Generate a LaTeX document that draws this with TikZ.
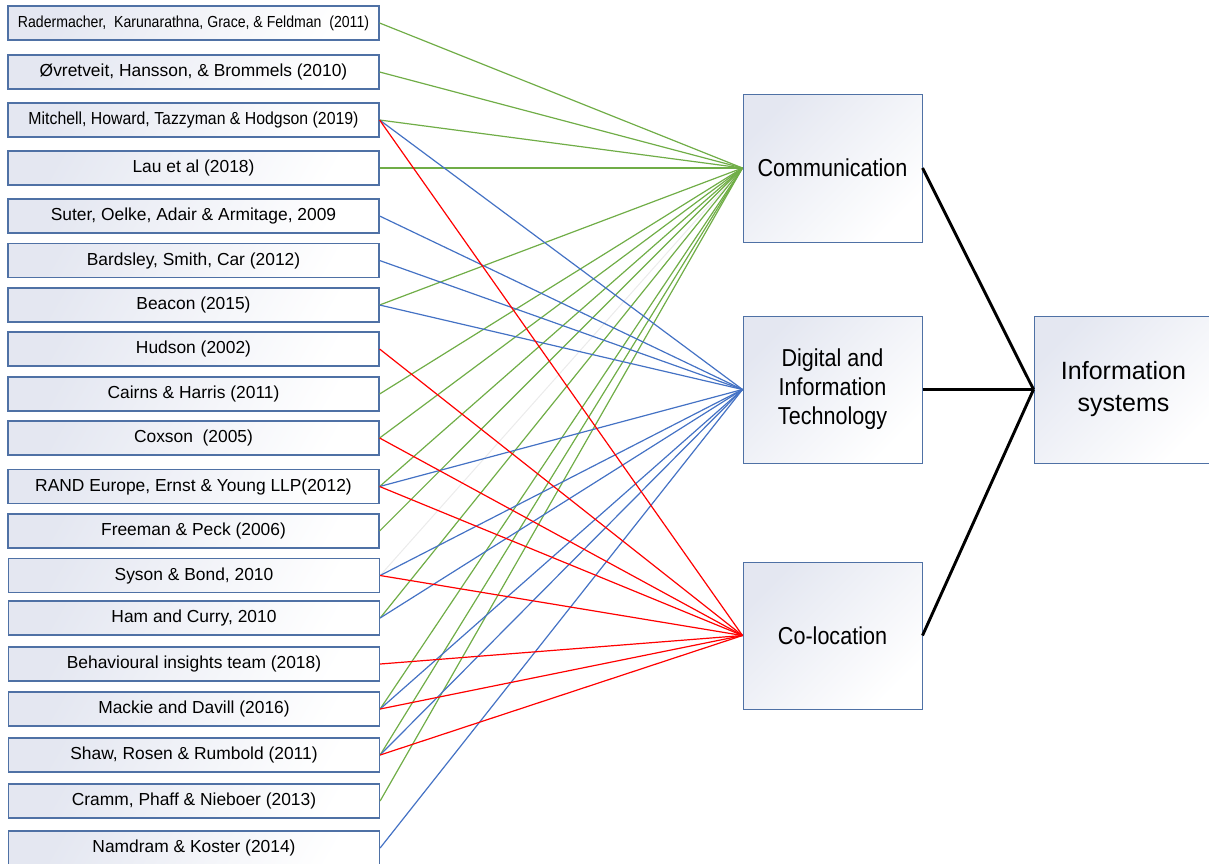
\documentclass[tikz,border=0pt]{standalone}
\usepackage{fontspec}
\setmainfont{Liberation Sans}
\newfontfamily\narrowsans[FakeStretch=0.88]{Liberation Sans}
\newfontfamily\condsans[FakeStretch=0.91]{Liberation Sans}
\definecolor{boxline}{RGB}{79,113,165}
\definecolor{boxshade}{RGB}{228,231,241}
\definecolor{linkgreen}{RGB}{112,173,71}
\definecolor{linkblue}{RGB}{68,114,196}
\definecolor{linkred}{RGB}{255,0,0}
\begin{document}
\begin{tikzpicture}[x=1pt,y=-1pt,
  source/.style={draw=boxline, line width=1.2pt, top color=boxshade, bottom color=white,
    shading angle=60, minimum width=371pt, minimum height=34pt, inner sep=0pt,
    font=\fontsize{17.4}{20}\selectfont},
  theme/.style={draw=boxline, line width=1pt, top color=boxshade, bottom color=white,
    shading angle=45, minimum width=179pt, minimum height=147pt, inner sep=0pt,
    align=center, font=\fontsize{24.5}{29}\narrowsans},
  tocomm/.style={linkgreen, line width=1.2pt},
  todit/.style={linkblue, line width=1.2pt},
  tocoloc/.style={linkred, line width=1.2pt},
  faintlink/.style={black!8, line width=1pt},
  link/.style={black, line width=2.9pt}]
\useasboundingbox (0,0) rectangle (1209,863);

% literature sources
\node[source, font=\fontsize{16}{19}\narrowsans] (s1) at (193.5,23)
  {Radermacher,~ Karunarathna, Grace, \& Feldman~ (2011)};
\node[source] (s2) at (193.5,72) {Øvretveit, Hansson, \& Brommels (2010)};
\node[source, font=\fontsize{17.4}{20}\condsans] (s3) at (193.5,120)
  {Mitchell, Howard, Tazzyman \& Hodgson (2019)};
\node[source] (s4) at (193.5,168) {Lau et al (2018)};
\node[source] (s5) at (193.5,216) {Suter, Oelke, Adair \& Armitage, 2009};
\node[source] (s6) at (193.5,260.5) {Bardsley, Smith, Car (2012)};
\node[source] (s7) at (193.5,305) {Beacon (2015)};
\node[source] (s8) at (193.5,349) {Hudson (2002)};
\node[source] (s9) at (193.5,394) {Cairns \& Harris (2011)};
\node[source] (s10) at (193.5,438) {Coxson~ (2005)};
\node[source] (s11) at (193.5,486.5) {RAND Europe, Ernst \& Young LLP(2012)};
\node[source] (s12) at (193.5,531) {Freeman \& Peck (2006)};
\node[source] (s13) at (194,575.5) {Syson \& Bond, 2010};
\node[source] (s14) at (194,618) {Ham and Curry, 2010};
\node[source] (s15) at (194,664) {Behavioural insights team (2018)};
\node[source] (s16) at (194,709) {Mackie and Davill (2016)};
\node[source] (s17) at (194,755) {Shaw, Rosen \& Rumbold (2011)};
\node[source] (s18) at (194,801) {Cramm, Phaff \& Nieboer (2013)};
\node[source] (s19) at (194,848) {Namdram \& Koster (2014)};

% themes
\node[theme, minimum height=148pt] (comm) at (832.5,168) {Communication};
\node[theme] (dit) at (832.5,389.5) {Digital and\\Information\\Technology};
\node[theme] (coloc) at (832.5,635.5) {Co-location};
\node[theme, font=\fontsize{25}{32}\selectfont] (info) at (1123.5,389.5)
  {Information\\systems};

% source-to-theme links
\draw[faintlink] (s13.east) -- (comm.west);
\foreach \s in {s1,s2,s3,s4,s7,s9,s10,s11,s12,s14,s16,s17,s18}
  \draw[tocomm] (\s.east) -- (comm.west);
\foreach \s in {s3,s5,s6,s7,s11,s13,s14,s16,s17,s19}
  \draw[todit] (\s.east) -- (dit.west);
\foreach \s in {s3,s8,s10,s11,s13,s15,s16,s17}
  \draw[tocoloc] (\s.east) -- (coloc.west);

% theme-to-system links
\draw[link] (comm.east) -- (info.west);
\draw[link] (dit.east) -- (info.west);
\draw[link] (coloc.east) -- (info.west);
\end{tikzpicture}
\end{document}
